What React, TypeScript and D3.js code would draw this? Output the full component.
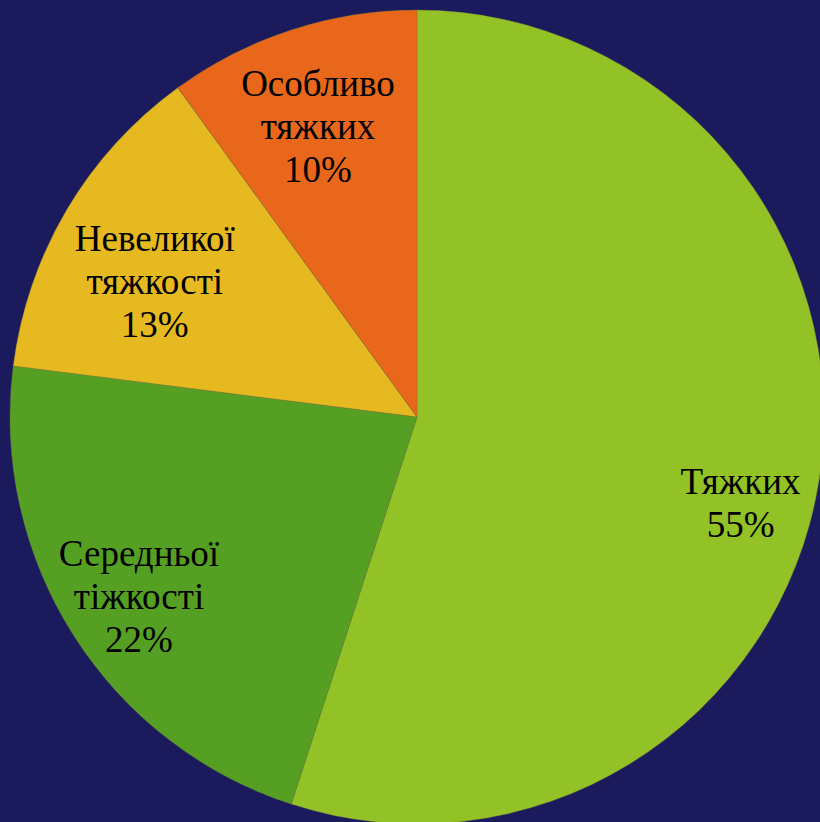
import React from "react";
import * as d3 from "d3";

const W = 820;
const H = 822;

const categories = ["Тяжких", "Середньої тіжкості", "Невеликої тяжкості", "Особливо тяжких"];
const labelLines = [["Тяжких"], ["Середньої", "тіжкості"], ["Невеликої", "тяжкості"], ["Особливо", "тяжких"]];
const values = [55, 22, 13, 10];
const colors = ["#93c227", "#55a022", "#e5b91f", "#e8671a"];

// manual nudges for label blocks (like Excel's best-fit placement)
const labelNudge = [[10, 36], [-10, 9], [11, 26], [-1, 11]];

const CX = 417;
const CY = 417;
const R = 407;
const FONT = 37;
const LINE = 43;

export default function App() {
  const pie = d3.pie<number>().sort(null).value((d) => d)(values);
  const arc = d3.arc<d3.PieArcDatum<number>>().innerRadius(0).outerRadius(R);
  const labelArc = d3.arc<d3.PieArcDatum<number>>().innerRadius(R * 0.78).outerRadius(R * 0.78);
  const total = d3.sum(values);
  const fmt = d3.format(".0%");

  return (
    <div style={{ position: "fixed", left: 0, top: 0, width: W, height: H, overflow: "hidden" }}>
      <svg width={W} height={H} style={{ display: "block" }}>
        <rect width={W} height={H} fill="#1b1a5c" />
        <g transform={`translate(${CX},${CY})`}>
          {pie.map((p, i) => (
            <path key={categories[i]} d={arc(p) || ""} fill={colors[i]} stroke="#7a7a3a" strokeWidth={0.4} />
          ))}
          {pie.map((p, i) => {
            const [cx, cy] = labelArc.centroid(p);
            const x = cx + labelNudge[i][0];
            const y = cy + labelNudge[i][1];
            const lines = [...labelLines[i], fmt(values[i] / total)];
            const y0 = y - ((lines.length - 1) * LINE) / 2;
            return (
              <text
                key={"l" + i}
                textAnchor="middle"
                fontFamily="'Liberation Serif', 'Times New Roman', serif"
                fontSize={FONT}
                fill="#000"
              >
                {lines.map((t, j) => (
                  <tspan key={j} x={x} y={y0 + j * LINE} dominantBaseline="central">
                    {t}
                  </tspan>
                ))}
              </text>
            );
          })}
        </g>
      </svg>
    </div>
  );
}
